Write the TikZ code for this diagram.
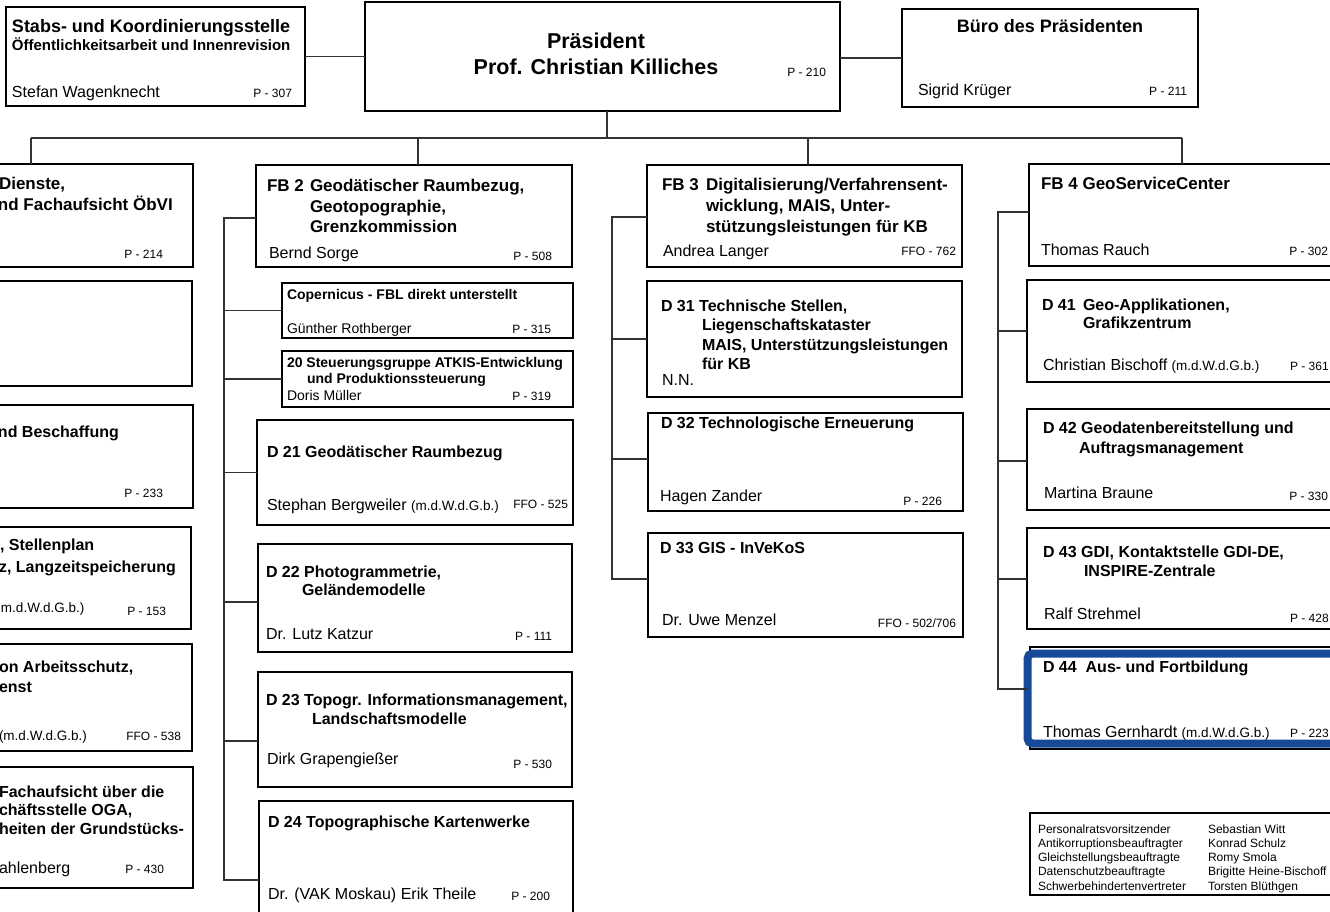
\documentclass[tikz,border=0pt]{standalone}
\usepackage{fontspec}
\setmainfont{Liberation Sans}
\definecolor{frameblue}{RGB}{22,74,152}
\newcommand\bx[5]{\node[box, minimum width={(#4)-(#2)}, minimum height={(#5)-(#3)}] (#1) at (#2,#3) {};}
\newcommand\tx[4]{\node[txt,#1] (#2) at (#3) {#4};}
\tikzset{
  box/.style={draw=black, line width=2pt, fill=white, rectangle, inner sep=0pt, outer sep=0pt, anchor=north west},
  conn/.style={draw=black!80, line width=1.2pt},
  txt/.style={anchor=base west, inner sep=0pt, outer sep=0pt},
  hfb/.style={font=\bfseries\fontsize{17}{20}\selectfont},
  hd/.style={font=\bfseries\fontsize{16}{19}\selectfont},
  hs/.style={font=\bfseries\fontsize{14}{16}\selectfont},
  nm/.style={font=\fontsize{16}{19}\selectfont},
  ns/.style={font=\fontsize{14}{16}\selectfont},
  pn/.style={anchor=base east, font=\fontsize{12}{14}\selectfont},
  pnw/.style={anchor=base west, font=\fontsize{12}{14}\selectfont},
  lg/.style={font=\fontsize{12}{14}\selectfont},
}
\newcommand\sm[1]{{\fontsize{13.5}{15}\selectfont #1}}
\begin{document}
\begin{tikzpicture}[x=1pt,y=-1pt]
\useasboundingbox (0,0) rectangle (1330,911);
\fill[white] (0,0) rectangle (1330,911);
\clip (0,0) rectangle (1330,911);

% ---------- top row ----------
\bx{stabs}{6}{7}{305}{106}
\node[box, line width=2.4pt, minimum width=475, minimum height=109] (pres) at (365,2) {};
\bx{buero}{902}{9}{1198}{107}

% ---------- FB1 column (cut at left edge) ----------
\bx{fb1}{-131}{164}{193}{267}
\bx{l2}{-131}{281}{192}{386}
\bx{l3}{-131}{405}{193}{508}
\bx{l4}{-131}{527}{191}{629}
\bx{l5}{-131}{644}{192}{751}
\bx{l6}{-131}{767}{193}{888}

% ---------- FB2 column ----------
\bx{fb2}{256}{165}{572}{267}
\bx{cop}{282}{283}{573}{338}
\bx{stg}{282}{351}{573}{407}
\bx{d21}{257}{420}{573}{525}
\bx{d22}{258}{544}{572}{652}
\bx{d23}{258}{672}{572}{787}
\bx{d24}{259}{801}{573}{930}

% ---------- FB3 column ----------
\bx{fb3}{647}{165}{962}{267}
\bx{d31}{647}{281}{962}{397}
\bx{d32}{648}{413}{963}{511}
\bx{d33}{648}{533}{963}{637}

% ---------- FB4 column ----------
\bx{fb4}{1029}{164}{1340}{266}
\bx{d41}{1027}{280}{1340}{382}
\bx{d42}{1027}{409}{1340}{510}
\bx{d43}{1027}{528}{1340}{629}
\bx{d44}{1030}{647}{1340}{749}
\node[draw=frameblue, line width=8pt, rounded corners=5pt, inner sep=0pt, outer sep=0pt, anchor=north west, minimum width=330, minimum height=90] (d44f) at (1027.5,653.5) {};

% legend
\bx{leg}{1030}{813}{1340}{895}

% ---------- connectors ----------
\draw[conn] (stabs.east) -- (stabs.east -| pres.west);
\draw[conn] (pres.east |- buero.west) -- (buero.west);
\coordinate (bus) at (607,138);
\coordinate (busL) at (31,138);
\coordinate (busR) at (1182,138);
\coordinate (b2) at (418,138);
\coordinate (b3) at (808,138);
\draw[conn] (pres.south -| bus) -- (bus);
\draw[conn] (busL) -- (busR);
\draw[conn] (busL) -- (busL |- fb1.north);
\draw[conn] (b2) -- (b2 |- fb2.north);
\draw[conn] (b3) -- (b3 |- fb3.north);
\draw[conn] (busR) -- (busR |- fb4.north);

% FB2 spine
\coordinate (s2t) at (224,218);
\coordinate (s2b) at (224,880);
\coordinate (j22) at (224,602);
\coordinate (j23) at (224,741);
\draw[conn] (s2t -| fb2.west) -- (s2t) -- (s2b) -- (s2b -| d24.west);
\draw[conn] (s2t |- cop.west) -- (cop.west);
\draw[conn] (s2t |- stg.west) -- (stg.west);
\draw[conn] (s2t |- d21.west) -- (d21.west);
\draw[conn] (j22) -- (j22 -| d22.west);
\draw[conn] (j23) -- (j23 -| d23.west);

% FB3 spine
\coordinate (s3t) at (612,217);
\coordinate (s3b) at (612,579);
\draw[conn] (s3t -| fb3.west) -- (s3t) -- (s3b) -- (s3b -| d33.west);
\draw[conn] (s3t |- d31.west) -- (d31.west);
\coordinate (j32) at (612,459);
\draw[conn] (j32) -- (j32 -| d32.west);

% FB4 spine
\coordinate (s4t) at (998,212);
\coordinate (s4b) at (998,689);
\draw[conn] (s4t -| fb4.west) -- (s4t) -- (s4b) -- (s4b -| d44f.west);
\draw[conn] (s4t |- d41.west) -- (d41.west);
\coordinate (j42) at (998,461);
\draw[conn] (j42) -- (j42 -| d42.west);
\coordinate (j43) at (998,579);
\draw[conn] (j43) -- (j43 -| d43.west);

% ---------- texts ----------
% Stabs
\tx{font=\bfseries\fontsize{18}{21}\selectfont}{ta1}{12,32}{Stabs- und Koordinierungsstelle}
\tx{font=\bfseries\fontsize{15}{18}\selectfont}{ta2}{12,50}{Öffentlichkeitsarbeit und Innenrevision}
\tx{nm}{ta3}{12,97}{Stefan Wagenknecht}
\tx{pn}{ta4}{292,97}{P - 307}
% President
\node[anchor=base, inner sep=0pt, font=\bfseries\fontsize{21.5}{25}\selectfont] (tp1) at (596,48) {Präsident};
\node[anchor=base, inner sep=0pt, font=\bfseries\fontsize{21.5}{25}\selectfont] (tp2) at (596,74) {Prof. Christian Killiches};
\tx{pn}{tp3}{826,76}{P - 210}
% Buero
\node[anchor=base, inner sep=0pt, font=\bfseries\fontsize{18}{21}\selectfont] (tb1) at (1050,32) {Büro des Präsidenten};
\tx{nm}{tb2}{918,95}{Sigrid Krüger}
\tx{pn}{tb3}{1187,95}{P - 211}

% FB1 column fragments
\tx{hfb}{tl1}{-1,189}{Dienste,}
\tx{hfb}{tl2}{-2,210}{nd Fachaufsicht ÖbVI}
\tx{pn}{tl3}{163,258}{P - 214}
\tx{hd}{tl4}{-2,437}{nd Beschaffung}
\tx{pn}{tl5}{163,497}{P - 233}
\tx{hd}{tl6}{0,550}{, Stellenplan}
\tx{hd}{tl7}{-1,572}{z, Langzeitspeicherung}
\tx{font=\fontsize{13.5}{15}\selectfont}{tl8}{1,612}{m.d.W.d.G.b.)}
\tx{pn}{tl9}{166,615}{P - 153}
\tx{hd}{tl10}{-1,672}{on Arbeitsschutz,}
\tx{hd}{tl11}{-1,692}{enst}
\tx{font=\fontsize{13.5}{15}\selectfont}{tl12}{-1,740}{(m.d.W.d.G.b.)}
\tx{pn}{tl13}{181,740}{FFO - 538}
\tx{hd}{tl14}{-1,797}{Fachaufsicht über die}
\tx{hd}{tl15}{-1,815}{chäftsstelle OGA,}
\tx{hd}{tl16}{-1,834}{heiten der Grundstücks-}
\tx{nm}{tl17}{-1,873}{ahlenberg}
\tx{pn}{tl18}{164,873}{P - 430}

% FB2
\tx{hfb}{t21}{267,191}{FB 2}
\tx{hfb}{t22}{310,191}{Geodätischer Raumbezug,}
\tx{hfb}{t23}{310,212}{Geotopographie,}
\tx{hfb}{t24}{310,232}{Grenzkommission}
\tx{nm}{t25}{269,258}{Bernd Sorge}
\tx{pn}{t26}{552,260}{P - 508}
\tx{hs}{tc1}{287,299}{Copernicus - FBL direkt unterstellt}
\tx{ns}{tc2}{287,333}{Günther Rothberger}
\tx{pn}{tc3}{551,333}{P - 315}
\tx{hs}{ts1}{287,367}{20 Steuerungsgruppe ATKIS-Entwicklung}
\tx{hs}{ts2}{307,383}{und Produktionssteuerung}
\tx{ns}{ts3}{287,400}{Doris Müller}
\tx{pn}{ts4}{551,400}{P - 319}
\tx{hd}{t211}{267,457}{D 21 Geodätischer Raumbezug}
\tx{nm}{t212}{267,510}{Stephan Bergweiler \sm{(m.d.W.d.G.b.)}}
\tx{pn}{t213}{568,508}{FFO - 525}
\tx{hd}{t221}{266,577}{D 22 Photogrammetrie,}
\tx{hd}{t222}{302,595}{Geländemodelle}
\tx{nm}{t223}{266,639}{Dr. Lutz Katzur}
\tx{pn}{t224}{552,640}{P - 111}
\tx{hd}{t231}{266,705}{D 23 Topogr. Informationsmanagement,}
\tx{hd}{t232}{312,724}{Landschaftsmodelle}
\tx{nm}{t233}{267,764}{Dirk Grapengießer}
\tx{pn}{t234}{552,768}{P - 530}
\tx{hd}{t241}{268,827}{D 24 Topographische Kartenwerke}
\tx{nm}{t242}{268,899}{Dr. (VAK Moskau) Erik Theile}
\tx{pn}{t243}{550,900}{P - 200}

% FB3
\tx{hfb}{t31}{662,190}{FB 3}
\tx{hfb}{t32}{706,190}{Digitalisierung/Verfahrensent-}
\tx{hfb}{t33}{706,211}{wicklung, MAIS, Unter-}
\tx{hfb}{t34}{706,232}{stützungsleistungen für KB}
\tx{nm}{t35}{663,256}{Andrea Langer}
\tx{pn}{t36}{956,255}{FFO - 762}
\tx{hd}{t311}{661,311}{D 31 Technische Stellen,}
\tx{hd}{t312}{702,330}{Liegenschaftskataster}
\tx{hd}{t313}{702,350}{MAIS, Unterstützungsleistungen}
\tx{hd}{t314}{702,369}{für KB}
\tx{nm}{t315}{662,385}{N.N.}
\tx{hd}{t321}{661,428}{D 32 Technologische Erneuerung}
\tx{nm}{t322}{660,501}{Hagen Zander}
\tx{pn}{t323}{942,505}{P - 226}
\tx{hd}{t331}{660,553}{D 33 GIS - InVeKoS}
\tx{nm}{t332}{662,625}{Dr. Uwe Menzel}
\tx{pn}{t333}{956,627}{FFO - 502/706}

% FB4
\tx{hfb}{t41}{1041,189}{FB 4 GeoServiceCenter}
\tx{nm}{t42}{1041,255}{Thomas Rauch}
\tx{pn}{t43}{1328,255}{P - 302}
\tx{hd}{t411}{1042,310}{D 41}
\tx{hd}{t412}{1083,310}{Geo-Applikationen,}
\tx{hd}{t413}{1083,328}{Grafikzentrum}
\tx{nm}{t414}{1043,370}{Christian Bischoff \sm{(m.d.W.d.G.b.)}}
\tx{pnw}{t415}{1290,370}{P - 361}
\tx{hd}{t421}{1043,433}{D 42 Geodatenbereitstellung und}
\tx{hd}{t422}{1079,453}{Auftragsmanagement}
\tx{nm}{t423}{1044,498}{Martina Braune}
\tx{pn}{t424}{1328,500}{P - 330}
\tx{hd}{t431}{1043,557}{D 43 GDI, Kontaktstelle GDI-DE,}
\tx{hd}{t432}{1084,576}{INSPIRE-Zentrale}
\tx{nm}{t433}{1044,619}{Ralf Strehmel}
\tx{pnw}{t434}{1290,622}{P - 428}
\tx{hd}{t441}{1043,672}{D 44\ \ Aus- und Fortbildung}
\tx{nm}{t442}{1043,737}{Thomas Gernhardt \sm{(m.d.W.d.G.b.)}}
\tx{pnw}{t443}{1290,737}{P - 223}

% legend
\tx{lg}{lga1}{1038,833}{Personalratsvorsitzender}
\tx{lg}{lga2}{1038,847.3}{Antikorruptionsbeauftragter}
\tx{lg}{lga3}{1038,861.6}{Gleichstellungsbeauftragte}
\tx{lg}{lga4}{1038,875.9}{Datenschutzbeauftragte}
\tx{lg}{lga5}{1038,890.2}{Schwerbehindertenvertreter}
\tx{lg}{lgb1}{1208,833}{Sebastian Witt}
\tx{lg}{lgb2}{1208,847.3}{Konrad Schulz}
\tx{lg}{lgb3}{1208,861.6}{Romy Smola}
\tx{lg}{lgb4}{1208,875.9}{Brigitte Heine-Bischoff}
\tx{lg}{lgb5}{1208,890.2}{Torsten Blüthgen}
\end{tikzpicture}
\end{document}
